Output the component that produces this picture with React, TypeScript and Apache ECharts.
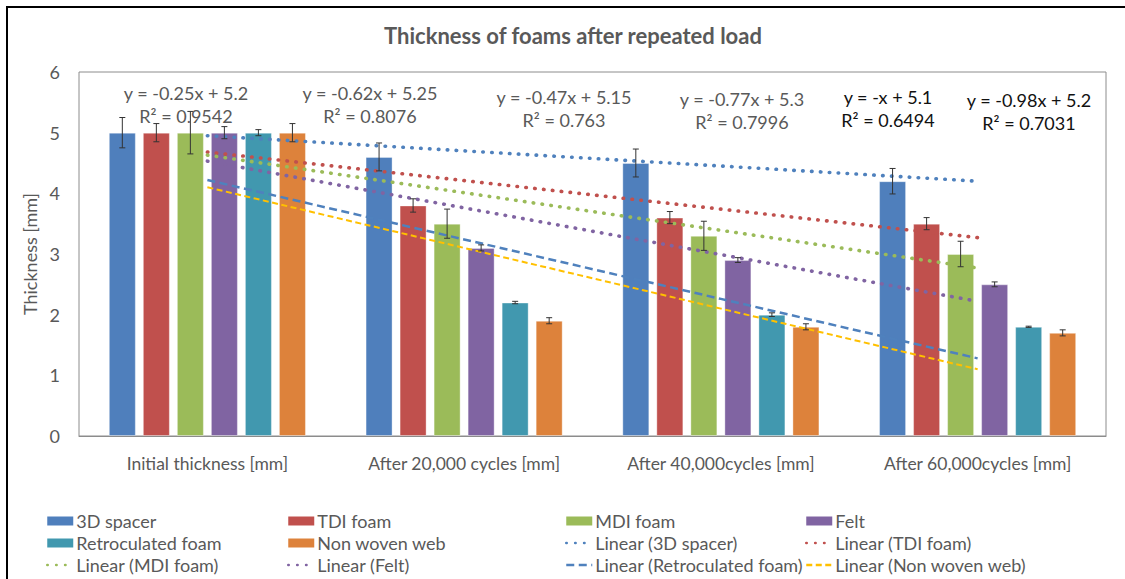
import React, { useEffect, useRef } from "react";
import * as echarts from "echarts";

const categories = [
  "Initial thickness [mm]",
  "After 20,000 cycles [mm]",
  "After 40,000cycles [mm]",
  "After 60,000cycles [mm]",
];

const seriesNames = ["3D spacer", "TDI foam", "MDI foam", "Felt", "Retroculated foam", "Non woven web"];
const spacer = [5, 4.6, 4.5, 4.2];
const tdi = [5, 3.8, 3.6, 3.5];
const mdi = [5, 3.5, 3.3, 3.0];
const felt = [5, 3.1, 2.9, 2.5];
const retro = [5, 2.2, 2.0, 1.8];
const nonwoven = [5, 1.9, 1.8, 1.7];

const spacerErr = [0.25, 0.23, 0.23, 0.21];
const tdiErr = [0.15, 0.11, 0.1, 0.1];
const mdiErr = [0.35, 0.24, 0.24, 0.21];
const feltErr = [0.1, 0.05, 0.04, 0.04];
const retroErr = [0.05, 0.02, 0.03, 0.01];
const nonwovenErr = [0.15, 0.05, 0.05, 0.05];

// trend line equations (slope, intercept) as shown on the chart
const trendSlopes = [-0.25, -0.47, -0.62, -0.77, -0.98, -1];
const trendIntercepts = [5.2, 5.15, 5.25, 5.3, 5.2, 5.1];

const equationTexts = [
  ["y = -0.25x + 5.2", "R² = 0.9542"],
  ["y = -0.62x + 5.25", "R² = 0.8076"],
  ["y = -0.47x + 5.15", "R² = 0.763"],
  ["y = -0.77x + 5.3", "R² = 0.7996"],
  ["y = -x + 5.1", "R² = 0.6494"],
  ["y = -0.98x + 5.2", "R² = 0.7031"],
];

const yTicks = [0, 1, 2, 3, 4, 5, 6];

const barColors = ["#4F7FBC", "#C0504D", "#9BBB59", "#8064A2", "#4198AF", "#DD823B"];
const trendColors = ["#4F81BD", "#C0504D", "#9BBB59", "#8064A2", "#4F81BD", "#FFC000"];

const FONT = "Lato, 'Open Sans', sans-serif";
const GREY = "#595959";

export default function App() {
  const ref = useRef<HTMLDivElement>(null);

  useEffect(() => {
    if (!ref.current) return;
    const chart = echarts.init(ref.current, undefined, { renderer: "svg" });

    const values = [spacer, tdi, mdi, felt, retro, nonwoven];
    const errs = [spacerErr, tdiErr, mdiErr, feltErr, retroErr, nonwovenErr];

    const barWidth = 27;
    const barGapPct = 0.26;
    const pitch = barWidth * (1 + barGapPct);

    const barSeries: any[] = values.map((v, i) => ({
      name: seriesNames[i],
      type: "bar",
      data: v,
      barWidth,
      barGap: `${barGapPct * 100}%`,
      itemStyle: { color: barColors[i], borderColor: "rgba(255,255,255,0.35)", borderWidth: 1 },
      z: 2,
    }));

    const errData: any[] = [];
    values.forEach((v, si) => {
      v.forEach((val, ci) => {
        errData.push([ci, val - errs[si][ci], val + errs[si][ci], si]);
      });
    });

    const errSeries = {
      type: "custom",
      name: "err",
      data: errData,
      z: 5,
      encode: { x: 0, y: [1, 2] },
      renderItem: (params: any, api: any) => {
        const ci = api.value(0);
        const lo = api.value(1);
        const hi = api.value(2);
        const si = api.value(3);
        const off = (si - 2.5) * pitch;
        const p1 = api.coord([ci, lo]);
        const p2 = api.coord([ci, hi]);
        const x = p1[0] + off;
        const cap = 3;
        const style = { stroke: "#333", lineWidth: 1 };
        return {
          type: "group",
          children: [
            { type: "line", shape: { x1: x, y1: p1[1], x2: x, y2: p2[1] }, style },
            { type: "line", shape: { x1: x - cap, y1: p1[1], x2: x + cap, y2: p1[1] }, style },
            { type: "line", shape: { x1: x - cap, y1: p2[1], x2: x + cap, y2: p2[1] }, style },
          ],
        };
      },
    };

    const trendTypes: any[] = [
      [0.5, 8.4],
      [0.5, 8.4],
      [0.5, 8.4],
      [0.5, 8.4],
      [8, 4.5],
      [6, 3.5],
    ];
    const trendWidths = [3.6, 3.6, 3.6, 3.6, 2.5, 2];
    const trendSeries: any[] = seriesNames.map((n, i) => ({
      name: `Linear (${n})`,
      type: "line",
      symbol: "none",
      data: categories.map((_, ci) => +(trendSlopes[i] * (ci + 1) + trendIntercepts[i]).toFixed(4)),
      lineStyle: {
        color: trendColors[i],
        width: trendWidths[i],
        type: trendTypes[i],
        cap: i < 4 ? "round" : "butt",
      },
      itemStyle: { color: trendColors[i] },
      z: 4,
    }));

    const eqPos = [
      [186, 93],
      [370, 93],
      [564, 97],
      [742, 99],
      [888, 97],
      [1029, 100],
    ];
    const eqColors = [GREY, GREY, GREY, GREY, "#111", "#111"];
    const eqGraphics: any[] = [];
    equationTexts.forEach((t, i) => {
      [0, 1].forEach((k) => {
        eqGraphics.push({
          type: "text",
          x: eqPos[i][0],
          y: eqPos[i][1] + k * 23,
          z: 10,
          style: {
            text: t[k],
            fill: eqColors[i],
            font: `18px ${FONT}`,
            textAlign: "center",
            textVerticalAlign: "middle",
          },
        });
      });
    });

    const legendCols = [
      ["3D spacer", "Retroculated foam", "Linear (MDI foam)"],
      ["TDI foam", "Non woven web", "Linear (Felt)"],
      ["MDI foam", "Linear (3D spacer)", "Linear (Retroculated foam)"],
      ["Felt", "Linear (TDI foam)", "Linear (Non woven web)"],
    ];
    const legendLeft = [46, 287, 565, 805];
    const legends = legendCols.map((col, i) => ({
      orient: "vertical",
      left: legendLeft[i],
      top: 511,
      padding: 0,
      itemGap: 2,
      itemWidth: 26,
      itemHeight: 9,
      itemStyle: { borderWidth: 0 },
      lineStyle: { width: 2.5 },
      textStyle: { fontFamily: FONT, fontSize: 18, color: GREY, lineHeight: 20, padding: [0, 0, 0, -2] },
      data: col.map((n) =>
        n.startsWith("Linear")
          ? { name: n, itemStyle: { opacity: 0 } }
          : { name: n, icon: "rect" }
      ),
    }));

    const option: any = {
      animation: false,
      backgroundColor: "#fff",
      textStyle: { fontFamily: FONT },
      title: {
        text: "Thickness of foams after repeated load",
        left: 568,
        textAlign: "center",
        top: 19,
        textStyle: { fontFamily: FONT, fontSize: 22, fontWeight: "bold", color: GREY },
      },
      legend: legends,
      grid: {
        left: 79,
        right: 19,
        top: 72,
        bottom: 143,
        show: true,
        borderColor: "#8C8C8C",
        borderWidth: 1,
        backgroundColor: "transparent",
      },
      xAxis: {
        type: "category",
        data: categories,
        axisLine: { lineStyle: { color: "#8C8C8C" } },
        axisTick: { show: false },
        axisLabel: { color: GREY, fontSize: 17.5, fontFamily: FONT, margin: 18 },
      },
      yAxis: {
        type: "value",
        min: yTicks[0],
        max: yTicks[yTicks.length - 1],
        interval: 1,
        name: "Thickness [mm]",
        nameLocation: "middle",
        nameGap: 25,
        nameTextStyle: { color: GREY, fontSize: 18, fontFamily: FONT },
        axisLine: { show: false },
        axisTick: { show: false },
        splitLine: { show: false },
        axisLabel: { color: GREY, fontSize: 18, fontFamily: FONT, margin: 19 },
      },
      series: [...barSeries, errSeries, ...trendSeries],
      graphic: [
        {
          type: "rect",
          shape: { x: 7, y: 7, width: 1140, height: 600 },
          style: { fill: "none", stroke: "#000", lineWidth: 2 },
          z: 0,
          silent: true,
        },
        ...eqGraphics,
      ],
    };

    chart.setOption(option);
    return () => chart.dispose();
  }, []);

  return (
    <div
      ref={ref}
      style={{ position: "fixed", left: 0, top: 0, width: 1125, height: 579 }}
    />
  );
}
